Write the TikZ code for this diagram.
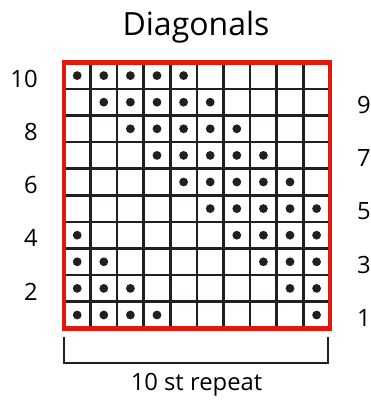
\documentclass[tikz,border=0pt]{standalone}
\usepackage{fontspec}
\setmainfont{Open Sans}
\usepackage{tikz}
\usetikzlibrary{positioning}
\definecolor{chartred}{RGB}{227,24,13}
\definecolor{inkgray}{RGB}{35,31,32}

\begin{document}
\begin{tikzpicture}[
  x=1pt, y=-1pt,
  gridline/.style={line width=2.7pt, inkgray},
  frame/.style={line width=4.7pt, chartred},
  stitch/.style={fill=inkgray},
  rownum/.style={inner sep=0pt, font=\fontsize{23.8}{28}\selectfont},
  bracket/.style={line width=2.5pt, inkgray}
]
\useasboundingbox (0,0) rectangle (370,401);
\node[anchor=base, inner sep=0pt, font=\fontsize{32}{38}\selectfont] (title) at (196,36) {Diagonals};
\begin{scope}[shift={(63.9,62.3)}, x=26.6pt, y=-26.6pt]
  \foreach \i in {1,...,9} {
    \draw[gridline] (\i,0) -- (\i,10);
    \draw[gridline] (0,\i) -- (10,\i);
  }
  \foreach \r in {1,...,10} {
    \foreach \k in {0,...,4} {
      \pgfmathtruncatemacro{\c}{mod(10-\r+\k,10)+1}
      \fill[stitch] (\c-0.5,10.5-\r) circle (4.4pt);
    }
  }
  \draw[frame] (0,0) rectangle (10,10);
  \foreach \r in {2,4,...,10}
    \node[rownum, anchor=east] (row\r) at ([xshift=-26pt, yshift=-3pt]0,10.5-\r) {\r};
  \foreach \r in {1,3,...,9}
    \node[rownum, anchor=west] (row\r) at ([xshift=27pt, yshift=-3pt]10,10.5-\r) {\r};
  \coordinate (bl) at ([yshift=-9pt]0,10);
  \coordinate (br) at ([yshift=-9pt]10,10);
\end{scope}
\draw[bracket] (bl) -- ++(0,25.5) -| ([xshift=-2pt]br);
\node[anchor=base, inner sep=0pt, font=\fontsize{23.8}{28}\selectfont] (repeat) at (196.5,390) {10 st repeat};
\end{tikzpicture}
\end{document}
